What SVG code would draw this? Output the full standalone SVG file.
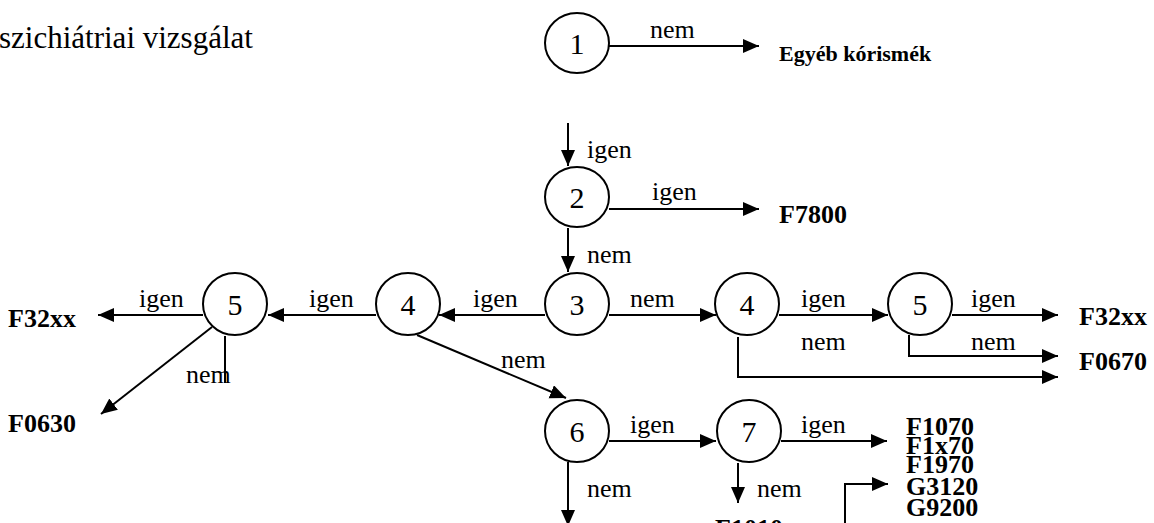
<svg xmlns="http://www.w3.org/2000/svg" width="1154" height="523" viewBox="0 0 1154 523">
<defs>
<marker id="ah" markerUnits="userSpaceOnUse" markerWidth="18" markerHeight="16" refX="16" refY="7" orient="auto">
<path d="M0,0 L16,7 L0,14 z" fill="#000"/>
</marker>
<style>
.n{fill:#fff;stroke:#000;stroke-width:2}
.num{font-family:"Liberation Serif","DejaVu Serif","Times New Roman",serif;font-size:30px;text-anchor:middle;fill:#000}
.lb{font-family:"Liberation Serif","DejaVu Serif","Times New Roman",serif;font-size:26px;fill:#000}
.b{font-family:"Liberation Serif","DejaVu Serif","Times New Roman",serif;font-size:26px;font-weight:bold;fill:#000}
.t{font-family:"Liberation Serif","DejaVu Serif","Times New Roman",serif;font-size:31px;fill:#000}
.c{fill:none;stroke:#000;stroke-width:2}
.a{marker-end:url(#ah)}
</style>
</defs>
<rect width="1154" height="523" fill="#fff"/>
<text class="t" x="-1" y="48">szichiátriai vizsgálat</text>

<g id="connectors">
<path class="c a" d="M609,46 H759"/>
<path class="c a" d="M568,123 V166"/>
<path class="c a" d="M609,209 H759"/>
<path class="c a" d="M568,228 V272"/>
<path class="c a" d="M545,315 H439"/>
<path class="c a" d="M376,315 H268"/>
<path class="c a" d="M203,315 H98"/>
<path class="c a" d="M212,327 L101,414"/>
<path class="c" d="M225,336 V383"/>
<path class="c a" d="M417,335 L566,398"/>
<path class="c a" d="M609,315 H716"/>
<path class="c a" d="M779,315 H888"/>
<path class="c a" d="M952,315 H1058"/>
<path class="c a" d="M909,335 V356 H1058"/>
<path class="c a" d="M738,337 V377 H1058"/>
<path class="c a" d="M609,441 H716"/>
<path class="c a" d="M781,441 H887"/>
<path class="c a" d="M568,462 V526"/>
<path class="c a" d="M738,463 V503"/>
<path class="c a" d="M845,530 V484 H888"/>
</g>

<g id="labels">
<text class="lb" x="650" y="38">nem</text>
<text class="lb" x="587" y="158">igen</text>
<text class="lb" x="652" y="200">igen</text>
<text class="lb" x="587" y="263">nem</text>
<text class="lb" x="473" y="307">igen</text>
<text class="lb" x="309" y="307">igen</text>
<text class="lb" x="139" y="307">igen</text>
<text class="lb" x="186" y="383">nem</text>
<text class="lb" x="501" y="368">nem</text>
<text class="lb" x="630" y="307">nem</text>
<text class="lb" x="801" y="307">igen</text>
<text class="lb" x="971" y="307">igen</text>
<text class="lb" x="801" y="350">nem</text>
<text class="lb" x="971" y="350">nem</text>
<text class="lb" x="630" y="433">igen</text>
<text class="lb" x="801" y="433">igen</text>
<text class="lb" x="587" y="497">nem</text>
<text class="lb" x="757" y="497">nem</text>
</g>

<g id="outcomes">
<text class="b" x="779" y="61" style="font-size:22px">Egyéb kórismék</text>
<text class="b" x="779" y="223">F7800</text>
<text class="b" x="8" y="327">F32xx</text>
<text class="b" x="8" y="432">F0630</text>
<text class="b" x="1079" y="325">F32xx</text>
<text class="b" x="1079" y="370">F0670</text>
<text class="b" x="906" y="435">F1070</text>
<text class="b" x="906" y="454">F1x70</text>
<text class="b" x="906" y="473">F1970</text>
<text class="b" x="906" y="495">G3120</text>
<text class="b" x="906" y="516">G9200</text>
<text class="b" x="715" y="537">F1010</text>
</g>

<g id="node1"><ellipse class="n" cx="577" cy="43" rx="32" ry="30"/><text class="num" x="577" y="54">1</text></g>
<g id="node2"><ellipse class="n" cx="577" cy="197" rx="32" ry="30"/><text class="num" x="577" y="208">2</text></g>
<g id="node3"><ellipse class="n" cx="577" cy="304" rx="32" ry="31"/><text class="num" x="577" y="315">3</text></g>
<g id="node4a"><ellipse class="n" cx="408" cy="304" rx="32" ry="31"/><text class="num" x="408" y="315">4</text></g>
<g id="node5a"><ellipse class="n" cx="235" cy="304" rx="32" ry="31"/><text class="num" x="235" y="315">5</text></g>
<g id="node4b"><ellipse class="n" cx="747" cy="304" rx="32" ry="31"/><text class="num" x="747" y="315">4</text></g>
<g id="node5b"><ellipse class="n" cx="920" cy="304" rx="32" ry="31"/><text class="num" x="920" y="315">5</text></g>
<g id="node6"><ellipse class="n" cx="577" cy="431" rx="32" ry="31"/><text class="num" x="577" y="442">6</text></g>
<g id="node7"><ellipse class="n" cx="749" cy="431" rx="32" ry="31"/><text class="num" x="749" y="442">7</text></g>
</svg>
